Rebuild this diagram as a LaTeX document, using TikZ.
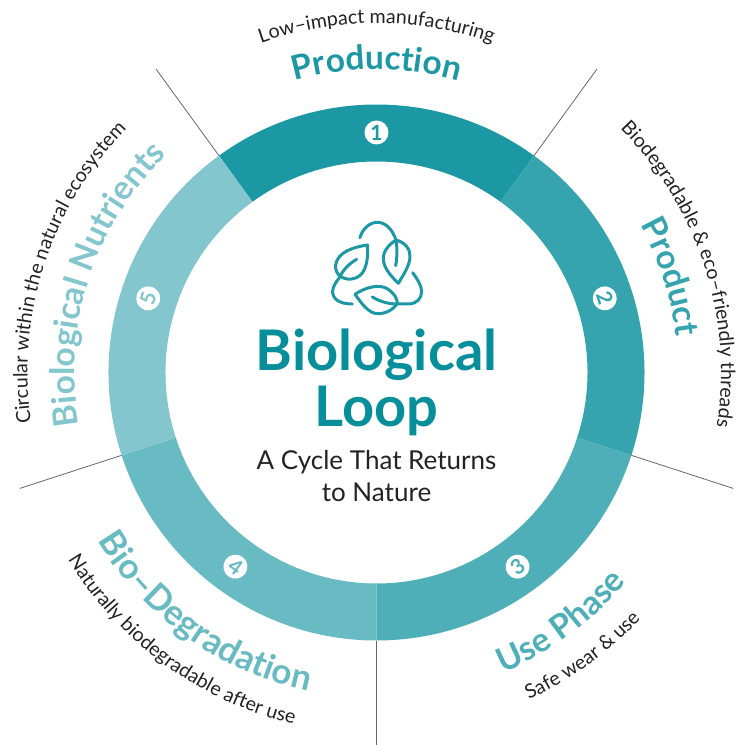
\documentclass[tikz,border=0pt]{standalone}
\usepackage{fontspec}
\setmainfont{Lato}
\usetikzlibrary{decorations.text}
\definecolor{c1}{HTML}{1C98A5}
\definecolor{c2}{HTML}{35A4AF}
\definecolor{c3}{HTML}{4FAFB9}
\definecolor{c4}{HTML}{68BAC3}
\definecolor{c5}{HTML}{83C6CD}
\definecolor{ctitle}{HTML}{078E9B}
\definecolor{cink}{HTML}{222222}
\newcommand\fhead{\fontsize{33.5}{34}\selectfont\bfseries}
\newcommand\fheadl{\fontsize{35}{35}\selectfont\bfseries}
\newcommand\fsub{\fontsize{19.6}{20}\selectfont\color{cink}}
\newcommand\sector[3]{\fill[#3] (#1:268pt) arc[start angle=#1,end angle=#2,radius=268pt] -- (#2:211pt) arc[start angle=#2,end angle=#1,radius=211pt] -- cycle;}
\newcommand\cwtext[3]{\path[decorate,decoration={text along path,text align=center,text={#3}}] (#1+65:#2 pt) arc[start angle=#1+65,end angle=#1-65,radius=#2 pt];}
\newcommand\ccwtext[3]{\path[decorate,decoration={text along path,text align=center,text={#3}}] (#1-65:#2 pt) arc[start angle=#1-65,end angle=#1+65,radius=#2 pt];}
\tikzset{
  numdot/.style={circle,fill=white,minimum size=24pt,inner sep=0pt,font=\fontsize{21}{21}\selectfont\bfseries},
  tick/.style={draw=black!60,line width=0.8pt},
  leaf/.style={draw=c1,line width=3pt,line cap=round,line join=round},
  bigtitle/.style={text=ctitle,font=\fontsize{56}{56}\selectfont\bfseries,inner sep=0pt},
  subtitle/.style={text=cink,font=\fontsize{26}{26}\selectfont,inner sep=0pt}
}
\begin{document}
\begin{tikzpicture}
\useasboundingbox (-376.5pt,-372.5pt) rectangle (359.5pt,372.5pt);
\sector{54}{126}{c1}
\sector{-18}{54}{c2}
\sector{-90}{-18}{c3}
\sector{198}{270}{c4}
\sector{126}{198}{c5}
\foreach \n/\a in {p/54,q/126,r/198,s/270,t/342}{
  \coordinate (\n in) at (\a:268pt);
  \coordinate (\n out) at (\a:375pt);
  \draw[tick] (\n in) -- (\n out);
}
\node[numdot,text=c1] (n1) at (90:240pt) {1};
\node[numdot,text=c2,rotate=-72] (n2) at (18:240pt) {2};
\node[numdot,text=c3,rotate=36] (n3) at (-54:240pt) {3};
\node[numdot,text=c4,rotate=-36] (n4) at (234:240pt) {4};
\node[numdot,text=c5,rotate=72] (n5) at (162:240pt) {5};
\cwtext{90}{303}{|\fhead\color{c1}|Production}
\cwtext{90}{349}{|\fsub|Low–impact manufacturing}
\cwtext{18}{302}{|\fhead\color{c2}|Product}
\cwtext{18}{344.5}{|\fsub|Biodegradable {\&} eco–friendly threads}
\ccwtext{-53.5}{326}{|\fhead\color{c3}|Use Phase}
\ccwtext{-54}{361}{|\fsub|Safe wear {\&} use}
\ccwtext{234.5}{326}{|\fheadl\color{c4}|Bio–Degradation}
\ccwtext{234}{361}{|\fsub|Naturally biodegradable after use}
\cwtext{162}{302}{|\fhead\color{c5}|Biological Nutrients}
\cwtext{162}{349}{|\fsub|Circular within the natural ecosystem}
\begin{scope}[shift={(-76.5pt,172.5pt)},x=0.3333pt,y=-0.3333pt]
\draw[leaf] (180,113) .. controls (188,85) and (210,67) .. (232,67) .. controls (258,67) and (278,90) .. (288,120);
\draw[leaf] (288,120) .. controls (318,128) and (332,150) .. (330,172) .. controls (328,200) and (308,228) .. (295,250) .. controls (275,230) and (250,205) .. (250,175) .. controls (250,150) and (270,132) .. (288,120) .. controls (292,145) and (292,170) .. (287,197);
\draw[leaf] (203,135) .. controls (165,140) and (112,155) .. (107,195) .. controls (104,225) and (130,240) .. (155,237) .. controls (195,232) and (205,190) .. (203,135);
\draw[leaf] (170,178) .. controls (145,192) and (128,212) .. (117,235) .. controls (105,250) and (98,262) .. (98,275) .. controls (98,297) and (118,312) .. (157,312);
\draw[leaf] (165,283) .. controls (195,262) and (240,250) .. (265,268) .. controls (282,280) and (292,295) .. (292,310) .. controls (280,330) and (255,342) .. (232,341) .. controls (205,340) and (185,310) .. (165,283);
\draw[leaf] (217,291) .. controls (240,305) and (265,312) .. (292,312) -- (325,312) .. controls (350,312) and (365,295) .. (365,275) .. controls (365,255) and (350,235) .. (338,218);
\end{scope}
\node[bigtitle] (title1) at (0pt,18pt) {Biological};
\node[bigtitle] (title2) at (0pt,-38pt) {Loop};
\node[subtitle] (sub1) at (0pt,-90pt) {A Cycle That Returns};
\node[subtitle] (sub2) at (0pt,-120pt) {to Nature};
\end{tikzpicture}
\end{document}
